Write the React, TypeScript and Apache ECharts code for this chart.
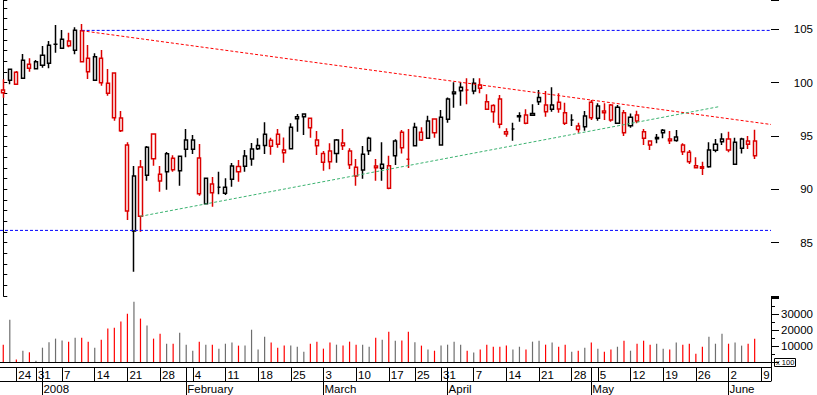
import React, { useEffect, useRef } from 'react';
import * as echarts from 'echarts';

// trading days (category axis), per month
const days2007Dec = [20, 21, 24, 27, 28, 31];
const days2008Jan = [2, 3, 4, 7, 8, 9, 10, 11, 14, 15, 16, 17, 18, 21, 22, 23, 24, 25, 28, 29, 30, 31];
const days2008Feb = [1, 4, 5, 6, 7, 8, 11, 12, 13, 14, 15, 18, 19, 20, 21, 22, 25, 26, 27, 28, 29];
const days2008Mar = [3, 4, 5, 6, 7, 10, 11, 12, 13, 14, 17, 18, 19, 20, 25, 26, 27, 28, 31];
const days2008Apr = [1, 2, 3, 4, 7, 8, 9, 10, 11, 14, 15, 16, 17, 18, 21, 22, 23, 24, 25, 28, 29, 30];
const days2008May = [2, 5, 6, 7, 8, 9, 12, 13, 14, 15, 16, 19, 20, 21, 22, 23, 26, 27, 28, 29, 30];
const days2008Jun = [2, 3, 4, 5, 6, 9, 10];

const monthNames = ['January', 'February', 'March', 'April', 'May', 'June', 'July', 'August', 'September', 'October', 'November', 'December'];

const opens = [
  99.31, 100.22, 99.84, 100.41, 101.34, 101.31, 101.63, 101.81, 103.59, 103.22,
  103.9, 103.03, 104.87, 102.28, 100.22, 102.28, 99.0, 100.9, 96.68, 94.15,
  86.09, 92.09, 91.31, 95.18, 91.41, 91.65, 92.91, 91.75, 94.62, 94.62,
  92.93, 88.65, 90.5, 90.19, 89.63, 90.94, 91.65, 93.12, 93.78, 94.12,
  94.12, 94.03, 95.16, 93.68, 93.81, 96.81, 96.81, 96.66, 94.62, 92.53,
  93.59, 93.37, 94.34, 93.59, 92.06, 91.81, 94.78, 92.18, 91.97, 90.09,
  93.15, 95.35, 92.81, 94.09, 94.62, 94.78, 96.59, 94.15, 96.56, 99.12,
  99.24, 99.31, 99.22, 99.78, 97.5, 97.28, 98.46, 95.4, 95.65, 96.9,
  96.97, 96.94, 98.21, 97.9, 97.5, 98.16, 97.18, 96.5, 95.93, 95.87,
  98.16, 96.66, 97.34, 97.9, 96.19, 97.18, 95.96, 96.97, 95.4, 94.53,
  94.85, 95.31, 94.72, 94.9, 94.15, 93.47, 92.21, 92.12, 92.12, 93.66,
  94.46, 94.72, 92.34, 93.84, 94.22, 94.53,
];
const closes = [
  99.06, 101.25, 100.97, 102.09, 101.72, 101.96, 102.56, 103.5, 103.59, 104.06,
  103.46, 104.91, 101.96, 101.03, 102.43, 99.99, 99.94, 96.71, 95.5, 87.96,
  91.25, 87.47, 93.94, 92.87, 90.78, 93.34, 91.84, 93.09, 93.75, 93.75,
  89.59, 91.03, 89.68, 90.19, 90.19, 92.18, 92.15, 92.16, 92.84, 93.81,
  95.16, 94.59, 94.22, 93.43, 95.81, 96.62, 97.06, 95.77, 94.09, 93.37,
  92.59, 94.62, 94.09, 92.31, 91.25, 93.28, 93.62, 92.03, 92.34, 92.21,
  94.53, 93.9, 92.81, 95.81, 95.35, 96.4, 95.31, 96.75, 98.46, 98.96,
  99.56, 99.31, 99.94, 99.47, 98.21, 97.87, 96.09, 95.18, 95.65, 96.8,
  96.19, 97.12, 98.62, 97.28, 97.9, 97.53, 96.19, 96.5, 95.62, 96.87,
  96.71, 97.81, 97.18, 96.5, 97.69, 95.3, 96.75, 96.4, 94.78, 94.15,
  94.75, 95.53, 94.56, 94.57, 93.53, 92.59, 92.03, 91.97, 93.68, 94.22,
  94.72, 93.68, 94.41, 94.72, 94.53, 93.15,
];
const lows = [
  98.59, 99.84, 99.78, 100.41, 101.03, 101.31, 101.4, 101.34, 102.81, 103.22,
  103.31, 102.66, 101.96, 100.34, 100.22, 99.71, 98.78, 96.43, 95.37, 87.12,
  82.27, 86.03, 90.81, 92.21, 89.78, 89.96, 91.65, 90.34, 93.0, 93.31,
  89.4, 88.65, 88.37, 89.53, 89.46, 90.24, 90.71, 91.65, 92.21, 93.68,
  93.31, 93.24, 93.9, 92.5, 93.81, 95.4, 95.09, 94.84, 93.22, 91.75,
  91.88, 92.5, 93.68, 91.9, 90.34, 90.99, 93.22, 90.81, 90.81, 90.0,
  92.28, 93.37, 92.0, 94.09, 94.53, 94.72, 94.84, 94.09, 96.24, 97.65,
  97.84, 97.97, 98.91, 99.0, 97.5, 96.24, 95.72, 94.93, 94.56, 96.34,
  96.09, 96.94, 97.9, 96.81, 97.28, 97.18, 96.03, 95.93, 95.3, 95.5,
  96.5, 96.43, 96.5, 96.34, 96.19, 94.99, 95.78, 96.19, 94.15, 93.68,
  94.31, 94.78, 94.25, 94.46, 93.22, 92.37, 92.03, 91.34, 92.03, 93.47,
  94.15, 93.47, 92.34, 93.37, 93.78, 92.84,
];
const highs = [
  100.31, 101.25, 101.09, 102.68, 102.28, 102.12, 103.43, 103.9, 105.4, 104.93,
  104.68, 105.19, 105.5, 103.53, 102.75, 103.06, 101.28, 100.9, 97.34, 94.41,
  92.18, 92.75, 94.06, 95.18, 92.18, 93.5, 93.19, 93.09, 95.65, 95.09,
  94.25, 91.03, 91.15, 91.65, 91.03, 92.47, 92.75, 93.68, 94.34, 94.78,
  96.28, 94.84, 95.65, 94.87, 96.19, 97.06, 97.12, 96.66, 95.46, 93.59,
  94.31, 94.72, 95.65, 93.84, 92.84, 94.06, 94.93, 92.84, 94.41, 93.15,
  94.69, 95.56, 95.65, 96.24, 95.81, 96.9, 96.59, 97.43, 98.62, 100.03,
  100.03, 100.41, 100.41, 100.41, 98.91, 97.97, 98.84, 95.72, 96.24, 97.22,
  97.5, 97.97, 99.31, 99.22, 99.56, 99.0, 98.12, 97.03, 96.24, 97.34,
  98.37, 98.06, 98.06, 98.0, 97.9, 97.43, 97.12, 97.37, 95.65, 94.53,
  95.18, 95.65, 95.46, 95.56, 94.31, 93.68, 93.0, 92.59, 94.41, 94.72,
  95.25, 95.4, 94.84, 94.84, 94.99, 95.59,
];
const volumes = [
  10900, 26600, 1500, 7100, 6100, 840, 9000, 12400, 14700, 13600,
  12800, 15300, 15300, 12800, 9000, 14000, 21000, 21600, 25400, 30400,
  37900, 27300, 22900, 14700, 17800, 11500, 11500, 18400, 10900, 7100,
  12800, 10900, 10900, 8400, 11500, 12200, 10300, 10300, 20300, 7800,
  15900, 12200, 9000, 10300, 10300, 9600, 6500, 11500, 12800, 8400,
  12200, 10900, 10300, 12800, 10900, 10900, 9600, 15300, 14000, 19100,
  13400, 13500, 19100, 12400, 10300, 7800, 7100, 10300, 10900, 12800,
  10900, 7100, 5900, 7800, 10900, 9600, 9600, 10300, 7800, 9600,
  7800, 12800, 13400, 10900, 12200, 9600, 10900, 6500, 7100, 9000,
  12200, 8400, 6500, 7800, 9600, 13400, 7100, 11500, 13400, 10900,
  11500, 8400, 7800, 12200, 10900, 11500, 5200, 9600, 15900, 11500,
  17800, 11500, 12200, 10300, 11500, 14700,
];
const priorClose = 99.5;

// trend / level lines: [slot, price]
const resistanceLine = [[12, 104.87], [117.5, 96.08]];
const supportLine = [[21, 87.47], [109.7, 97.77]];
const upperLevel = [[12, 104.9], [117.5, 104.9]];
const lowerLevel = [[-0.5, 86.15], [117.5, 86.15]];

const priceTickLabels = [85, 90, 95, 100, 105];
const volumeTickLabels = [10000, 20000, 30000];

const RED = '#dc0000';
const VOL_RED = '#ff0000';
const BLACK = '#000000';
const GRAY = '#6e6e6e';
const FONT = "'Liberation Sans', Arial, sans-serif";
const FS = 11.5;

type Day = { y: number; m: number; d: number };
const monthBlocks: [number, number, number[]][] = [
  [2007, 12, days2007Dec],
  [2008, 1, days2008Jan],
  [2008, 2, days2008Feb],
  [2008, 3, days2008Mar],
  [2008, 4, days2008Apr],
  [2008, 5, days2008May],
  [2008, 6, days2008Jun],
];
const days: Day[] = [];
monthBlocks.forEach(([y, m, list]) => list.forEach((d) => days.push({ y, m, d })));
const pad = (n: number) => (n < 10 ? '0' + n : '' + n);
const categories = days.map((t) => `${t.y}-${pad(t.m)}-${pad(t.d)}`);
const dow = (t: Day) => new Date(Date.UTC(t.y, t.m - 1, t.d)).getUTCDay();
const isWeekStart = (i: number) => i > 0 && dow(days[i]) <= dow(days[i - 1]);
const isMonthStart = (i: number) => i > 0 && days[i].m !== days[i - 1].m;

const PRICE_MIN = 80;
const PRICE_MAX = 107.75;

export default function App() {
  const ref = useRef<HTMLDivElement>(null);
  useEffect(() => {
    if (!ref.current) return;
    const chart = echarts.init(ref.current, undefined, { renderer: 'svg' });

    const candleData = opens.map((o, i) => {
      const c = closes[i];
      const prev = i === 0 ? priorClose : closes[i - 1];
      const col = c < prev ? RED : BLACK;
      return {
        value: [o, c, lows[i], highs[i]],
        itemStyle: { color: '#ffffff', color0: col, borderColor: col, borderColor0: col, borderColorDoji: col },
      };
    });
    const volumeData = volumes.map((v, i) => {
      const prev = i === 0 ? priorClose : closes[i - 1];
      return { value: v, itemStyle: { color: closes[i] < prev ? VOL_RED : GRAY } };
    });

    const lineSeries = (data: number[][], color: string) => ({
      type: 'line',
      xAxisIndex: 1,
      yAxisIndex: 0,
      data,
      symbol: 'none',
      silent: true,
      z: 5,
      lineStyle: { color, width: 1, type: [3, 2] },
    });

    const textStyle = { fontFamily: FONT, fontSize: FS, color: '#000' };

    chart.setOption({
      animation: false,
      backgroundColor: '#ffffff',
      grid: [
        { left: 0, top: 0, width: 771, height: 296 },
        { left: 0, top: 297, width: 771, height: 65 },
      ],
      xAxis: [
        { type: 'category', gridIndex: 0, data: categories, boundaryGap: true, show: false },
        { type: 'value', gridIndex: 0, min: -0.5, max: 117.5, show: false },
        {
          type: 'category', gridIndex: 1, data: categories, boundaryGap: true, position: 'top',
          axisLine: { show: true, lineStyle: { color: '#000', width: 1 } },
          axisTick: { show: false }, axisLabel: { show: false }, splitLine: { show: false },
        },
        {
          type: 'category', gridIndex: 1, data: categories, boundaryGap: true, position: 'bottom', offset: 5,
          axisLine: { show: true, lineStyle: { color: '#000', width: 1 } },
          axisTick: {
            show: true, alignWithLabel: true, length: 14, inside: false,
            interval: (i: number) => isWeekStart(i) || isMonthStart(i),
            lineStyle: { color: '#000', width: 1 },
          },
          axisLabel: {
            show: true, interval: (i: number) => isWeekStart(i),
            formatter: (_v: string, i: number) => String(days[i].d),
            align: 'left', verticalAlign: 'top', margin: 2, padding: [0, 0, 0, 2], ...textStyle,
          },
          splitLine: { show: false },
        },
        {
          type: 'category', gridIndex: 1, data: categories, boundaryGap: true, position: 'bottom', offset: 19,
          axisLine: { show: true, lineStyle: { color: '#000', width: 1 } },
          axisTick: {
            show: true, alignWithLabel: true, length: 14,
            interval: (i: number) => isMonthStart(i),
            lineStyle: { color: '#000', width: 1 },
          },
          axisLabel: {
            show: true, interval: (i: number) => isMonthStart(i),
            formatter: (_v: string, i: number) => (days[i].m === 1 ? String(days[i].y) : monthNames[days[i].m - 1]),
            align: 'left', verticalAlign: 'top', margin: 2, padding: [0, 0, 0, 1], ...textStyle,
          },
          splitLine: { show: false },
        },
      ],
      yAxis: [
        {
          type: 'value', gridIndex: 0, position: 'right', min: PRICE_MIN, max: PRICE_MAX, interval: 1,
          axisLine: { show: true, lineStyle: { color: '#000', width: 1 } },
          axisTick: { show: true, length: 4, lineStyle: { color: '#000', width: 1 } },
          axisLabel: {
            formatter: (v: number) => (priceTickLabels.indexOf(v) >= 0 ? String(v) : ''),
            align: 'right', margin: 42, ...textStyle,
          },
          splitLine: { show: false },
        },
        {
          type: 'value', gridIndex: 1, position: 'right', min: 0, max: 40880, interval: 10000,
          axisLine: { show: true, lineStyle: { color: '#000', width: 1 } },
          axisTick: { show: true, length: 8, lineStyle: { color: '#000', width: 1 } },
          minorTick: { show: true, splitNumber: 2, length: 4, lineStyle: { color: '#000', width: 1 } },
          axisLabel: {
            formatter: (v: number) => (volumeTickLabels.indexOf(v) >= 0 ? String(v) : ''),
            align: 'right', margin: 42, ...textStyle,
          },
          splitLine: { show: false },
        },
        {
          type: 'value', gridIndex: 0, position: 'right', min: PRICE_MIN, max: PRICE_MAX, interval: 5,
          axisLine: { show: false },
          axisTick: { show: true, length: 8, lineStyle: { color: '#000', width: 1 } },
          axisLabel: { show: false },
          splitLine: { show: false },
        },
      ],
      series: [
        {
          type: 'candlestick',
          xAxisIndex: 0,
          yAxisIndex: 0,
          barWidth: 3.6,
          data: candleData,
          itemStyle: { borderWidth: 1.5 },
          z: 3,
        },
        {
          type: 'bar',
          xAxisIndex: 2,
          yAxisIndex: 1,
          barWidth: 1.2,
          data: volumeData,
        },
        lineSeries(upperLevel, '#0000ff'),
        lineSeries(lowerLevel, '#0000ff'),
        lineSeries(resistanceLine, '#ff0000'),
        lineSeries(supportLine, '#3cb371'),
      ],
      graphic: [
        { type: 'line', shape: { x1: 771.5, y1: 362, x2: 771.5, y2: 381 }, style: { stroke: '#000', lineWidth: 1 } },
        { type: 'rect', shape: { x: 774.5, y: 358.5, width: 21, height: 8 }, style: { fill: '#fff', stroke: '#000', lineWidth: 1 } },
        { type: 'text', x: 776, y: 362.5, style: { text: 'x 100', fontSize: 7.5, fontFamily: FONT, fill: '#000', verticalAlign: 'middle' } },
      ],
    });
    return () => chart.dispose();
  }, []);
  return (
    <div
      ref={ref}
      style={{ position: 'fixed', left: 0, top: 0, width: 817, height: 395, background: '#fff' }}
    />
  );
}
